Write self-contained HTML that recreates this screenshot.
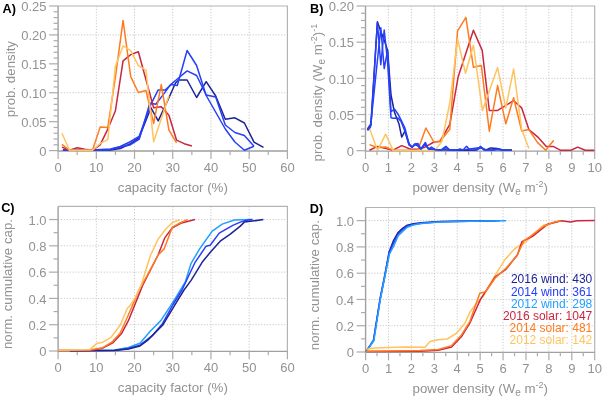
<!DOCTYPE html>
<html><head><meta charset="utf-8"><style>
html,body{margin:0;padding:0;background:#fff;}
body{width:602px;height:398px;overflow:hidden;}
svg{display:block;will-change:transform;}
text{font-family:"Liberation Sans", sans-serif;}
.g{stroke:#c8c8c8;stroke-width:1;stroke-dasharray:1.2 1.66;}
.s{stroke:#a0a0a0;stroke-width:1.4;fill:none;}
.t{stroke:#ababab;stroke-width:1.2;}
.s2{stroke:#b4b4b4;stroke-width:1.2;fill:none;}
.tl{font-size:13px;fill:#929292;}
.al{font-size:13.3px;fill:#929292;}
.sup{font-size:9px;} .sub{font-size:10px;}
.pl{font-size:12.7px;font-weight:bold;fill:#000;}
.lg{font-size:12px;}
</style></head><body>
<div class="wrap"><svg width="602" height="398" viewBox="0 0 602 398">
<rect width="602" height="398" fill="#fff"/>
<line x1="96.32" y1="6.00" x2="96.32" y2="150.60" class="g"/>
<line x1="134.53" y1="6.00" x2="134.53" y2="150.60" class="g"/>
<line x1="172.75" y1="6.00" x2="172.75" y2="150.60" class="g"/>
<line x1="210.97" y1="6.00" x2="210.97" y2="150.60" class="g"/>
<line x1="249.18" y1="6.00" x2="249.18" y2="150.60" class="g"/>
<line x1="58.10" y1="92.76" x2="287.40" y2="92.76" class="g"/>
<line x1="58.10" y1="34.92" x2="287.40" y2="34.92" class="g"/>
<line x1="388.42" y1="6.00" x2="388.42" y2="150.70" class="g"/>
<line x1="411.34" y1="6.00" x2="411.34" y2="150.70" class="g"/>
<line x1="434.26" y1="6.00" x2="434.26" y2="150.70" class="g"/>
<line x1="457.18" y1="6.00" x2="457.18" y2="150.70" class="g"/>
<line x1="480.10" y1="6.00" x2="480.10" y2="150.70" class="g"/>
<line x1="503.02" y1="6.00" x2="503.02" y2="150.70" class="g"/>
<line x1="525.94" y1="6.00" x2="525.94" y2="150.70" class="g"/>
<line x1="548.86" y1="6.00" x2="548.86" y2="150.70" class="g"/>
<line x1="571.78" y1="6.00" x2="571.78" y2="150.70" class="g"/>
<line x1="365.50" y1="114.52" x2="594.70" y2="114.52" class="g"/>
<line x1="365.50" y1="78.35" x2="594.70" y2="78.35" class="g"/>
<line x1="365.50" y1="42.17" x2="594.70" y2="42.17" class="g"/>
<line x1="96.32" y1="206.40" x2="96.32" y2="351.00" class="g"/>
<line x1="134.53" y1="206.40" x2="134.53" y2="351.00" class="g"/>
<line x1="172.75" y1="206.40" x2="172.75" y2="351.00" class="g"/>
<line x1="210.97" y1="206.40" x2="210.97" y2="351.00" class="g"/>
<line x1="249.18" y1="206.40" x2="249.18" y2="351.00" class="g"/>
<line x1="58.10" y1="324.71" x2="287.40" y2="324.71" class="g"/>
<line x1="58.10" y1="298.42" x2="287.40" y2="298.42" class="g"/>
<line x1="58.10" y1="272.13" x2="287.40" y2="272.13" class="g"/>
<line x1="58.10" y1="245.84" x2="287.40" y2="245.84" class="g"/>
<line x1="58.10" y1="219.55" x2="287.40" y2="219.55" class="g"/>
<line x1="388.51" y1="207.50" x2="388.51" y2="352.00" class="g"/>
<line x1="411.42" y1="207.50" x2="411.42" y2="352.00" class="g"/>
<line x1="434.33" y1="207.50" x2="434.33" y2="352.00" class="g"/>
<line x1="457.24" y1="207.50" x2="457.24" y2="352.00" class="g"/>
<line x1="480.15" y1="207.50" x2="480.15" y2="352.00" class="g"/>
<line x1="503.06" y1="207.50" x2="503.06" y2="352.00" class="g"/>
<line x1="525.97" y1="207.50" x2="525.97" y2="352.00" class="g"/>
<line x1="548.88" y1="207.50" x2="548.88" y2="352.00" class="g"/>
<line x1="571.79" y1="207.50" x2="571.79" y2="352.00" class="g"/>
<line x1="365.60" y1="325.73" x2="594.70" y2="325.73" class="g"/>
<line x1="365.60" y1="299.45" x2="594.70" y2="299.45" class="g"/>
<line x1="365.60" y1="273.18" x2="594.70" y2="273.18" class="g"/>
<line x1="365.60" y1="246.91" x2="594.70" y2="246.91" class="g"/>
<line x1="365.60" y1="220.64" x2="594.70" y2="220.64" class="g"/>
<path d="M58.10,6.00H287.40V151.00" class="s2"/>
<path d="M58.10,6.00V151.00H287.40" class="s"/>
<line x1="58.10" y1="150.60" x2="58.10" y2="158.90" class="t"/>
<text x="58.10" y="171.60" class="tl" text-anchor="middle">0</text>
<line x1="96.32" y1="150.60" x2="96.32" y2="158.90" class="t"/>
<text x="96.32" y="171.60" class="tl" text-anchor="middle">10</text>
<line x1="134.53" y1="150.60" x2="134.53" y2="158.90" class="t"/>
<text x="134.53" y="171.60" class="tl" text-anchor="middle">20</text>
<line x1="172.75" y1="150.60" x2="172.75" y2="158.90" class="t"/>
<text x="172.75" y="171.60" class="tl" text-anchor="middle">30</text>
<line x1="210.97" y1="150.60" x2="210.97" y2="158.90" class="t"/>
<text x="210.97" y="171.60" class="tl" text-anchor="middle">40</text>
<line x1="249.18" y1="150.60" x2="249.18" y2="158.90" class="t"/>
<text x="249.18" y="171.60" class="tl" text-anchor="middle">50</text>
<line x1="287.40" y1="150.60" x2="287.40" y2="158.90" class="t"/>
<text x="287.40" y="171.60" class="tl" text-anchor="middle">60</text>
<line x1="77.21" y1="150.60" x2="77.21" y2="154.90" class="t"/>
<line x1="115.42" y1="150.60" x2="115.42" y2="154.90" class="t"/>
<line x1="153.64" y1="150.60" x2="153.64" y2="154.90" class="t"/>
<line x1="191.86" y1="150.60" x2="191.86" y2="154.90" class="t"/>
<line x1="230.07" y1="150.60" x2="230.07" y2="154.90" class="t"/>
<line x1="268.29" y1="150.60" x2="268.29" y2="154.90" class="t"/>
<line x1="49.10" y1="150.60" x2="58.10" y2="150.60" class="t"/>
<text x="46.60" y="155.80" class="tl" text-anchor="end">0</text>
<line x1="49.10" y1="121.68" x2="58.10" y2="121.68" class="t"/>
<text x="46.60" y="126.88" class="tl" text-anchor="end">0.05</text>
<line x1="49.10" y1="92.76" x2="58.10" y2="92.76" class="t"/>
<text x="46.60" y="97.96" class="tl" text-anchor="end">0.10</text>
<line x1="49.10" y1="63.84" x2="58.10" y2="63.84" class="t"/>
<text x="46.60" y="69.04" class="tl" text-anchor="end">0.15</text>
<line x1="49.10" y1="34.92" x2="58.10" y2="34.92" class="t"/>
<text x="46.60" y="40.12" class="tl" text-anchor="end">0.20</text>
<line x1="49.10" y1="6.00" x2="58.10" y2="6.00" class="t"/>
<text x="46.60" y="11.20" class="tl" text-anchor="end">0.25</text>
<line x1="53.60" y1="144.82" x2="58.10" y2="144.82" class="t"/>
<line x1="53.60" y1="139.03" x2="58.10" y2="139.03" class="t"/>
<line x1="53.60" y1="133.25" x2="58.10" y2="133.25" class="t"/>
<line x1="53.60" y1="127.46" x2="58.10" y2="127.46" class="t"/>
<line x1="53.60" y1="115.90" x2="58.10" y2="115.90" class="t"/>
<line x1="53.60" y1="110.11" x2="58.10" y2="110.11" class="t"/>
<line x1="53.60" y1="104.33" x2="58.10" y2="104.33" class="t"/>
<line x1="53.60" y1="98.54" x2="58.10" y2="98.54" class="t"/>
<line x1="53.60" y1="86.98" x2="58.10" y2="86.98" class="t"/>
<line x1="53.60" y1="81.19" x2="58.10" y2="81.19" class="t"/>
<line x1="53.60" y1="75.41" x2="58.10" y2="75.41" class="t"/>
<line x1="53.60" y1="69.62" x2="58.10" y2="69.62" class="t"/>
<line x1="53.60" y1="58.06" x2="58.10" y2="58.06" class="t"/>
<line x1="53.60" y1="52.27" x2="58.10" y2="52.27" class="t"/>
<line x1="53.60" y1="46.49" x2="58.10" y2="46.49" class="t"/>
<line x1="53.60" y1="40.70" x2="58.10" y2="40.70" class="t"/>
<line x1="53.60" y1="29.14" x2="58.10" y2="29.14" class="t"/>
<line x1="53.60" y1="23.35" x2="58.10" y2="23.35" class="t"/>
<line x1="53.60" y1="17.57" x2="58.10" y2="17.57" class="t"/>
<line x1="53.60" y1="11.78" x2="58.10" y2="11.78" class="t"/>
<path d="M365.50,6.00H594.70V151.10" class="s2"/>
<path d="M365.50,6.00V151.10H594.70" class="s"/>
<line x1="365.50" y1="150.70" x2="365.50" y2="159.00" class="t"/>
<text x="365.50" y="171.70" class="tl" text-anchor="middle">0</text>
<line x1="388.42" y1="150.70" x2="388.42" y2="159.00" class="t"/>
<text x="388.42" y="171.70" class="tl" text-anchor="middle">1</text>
<line x1="411.34" y1="150.70" x2="411.34" y2="159.00" class="t"/>
<text x="411.34" y="171.70" class="tl" text-anchor="middle">2</text>
<line x1="434.26" y1="150.70" x2="434.26" y2="159.00" class="t"/>
<text x="434.26" y="171.70" class="tl" text-anchor="middle">3</text>
<line x1="457.18" y1="150.70" x2="457.18" y2="159.00" class="t"/>
<text x="457.18" y="171.70" class="tl" text-anchor="middle">4</text>
<line x1="480.10" y1="150.70" x2="480.10" y2="159.00" class="t"/>
<text x="480.10" y="171.70" class="tl" text-anchor="middle">5</text>
<line x1="503.02" y1="150.70" x2="503.02" y2="159.00" class="t"/>
<text x="503.02" y="171.70" class="tl" text-anchor="middle">6</text>
<line x1="525.94" y1="150.70" x2="525.94" y2="159.00" class="t"/>
<text x="525.94" y="171.70" class="tl" text-anchor="middle">7</text>
<line x1="548.86" y1="150.70" x2="548.86" y2="159.00" class="t"/>
<text x="548.86" y="171.70" class="tl" text-anchor="middle">8</text>
<line x1="571.78" y1="150.70" x2="571.78" y2="159.00" class="t"/>
<text x="571.78" y="171.70" class="tl" text-anchor="middle">9</text>
<line x1="594.70" y1="150.70" x2="594.70" y2="159.00" class="t"/>
<text x="594.70" y="171.70" class="tl" text-anchor="middle">10</text>
<line x1="376.96" y1="150.70" x2="376.96" y2="155.00" class="t"/>
<line x1="399.88" y1="150.70" x2="399.88" y2="155.00" class="t"/>
<line x1="422.80" y1="150.70" x2="422.80" y2="155.00" class="t"/>
<line x1="445.72" y1="150.70" x2="445.72" y2="155.00" class="t"/>
<line x1="468.64" y1="150.70" x2="468.64" y2="155.00" class="t"/>
<line x1="491.56" y1="150.70" x2="491.56" y2="155.00" class="t"/>
<line x1="514.48" y1="150.70" x2="514.48" y2="155.00" class="t"/>
<line x1="537.40" y1="150.70" x2="537.40" y2="155.00" class="t"/>
<line x1="560.32" y1="150.70" x2="560.32" y2="155.00" class="t"/>
<line x1="583.24" y1="150.70" x2="583.24" y2="155.00" class="t"/>
<line x1="356.50" y1="150.70" x2="365.50" y2="150.70" class="t"/>
<text x="354.00" y="155.90" class="tl" text-anchor="end">0</text>
<line x1="356.50" y1="114.52" x2="365.50" y2="114.52" class="t"/>
<text x="354.00" y="119.72" class="tl" text-anchor="end">0.05</text>
<line x1="356.50" y1="78.35" x2="365.50" y2="78.35" class="t"/>
<text x="354.00" y="83.55" class="tl" text-anchor="end">0.10</text>
<line x1="356.50" y1="42.17" x2="365.50" y2="42.17" class="t"/>
<text x="354.00" y="47.37" class="tl" text-anchor="end">0.15</text>
<line x1="356.50" y1="6.00" x2="365.50" y2="6.00" class="t"/>
<text x="354.00" y="11.20" class="tl" text-anchor="end">0.20</text>
<line x1="361.00" y1="143.47" x2="365.50" y2="143.47" class="t"/>
<line x1="361.00" y1="136.23" x2="365.50" y2="136.23" class="t"/>
<line x1="361.00" y1="129.00" x2="365.50" y2="129.00" class="t"/>
<line x1="361.00" y1="121.76" x2="365.50" y2="121.76" class="t"/>
<line x1="361.00" y1="107.29" x2="365.50" y2="107.29" class="t"/>
<line x1="361.00" y1="100.05" x2="365.50" y2="100.05" class="t"/>
<line x1="361.00" y1="92.82" x2="365.50" y2="92.82" class="t"/>
<line x1="361.00" y1="85.58" x2="365.50" y2="85.58" class="t"/>
<line x1="361.00" y1="71.12" x2="365.50" y2="71.12" class="t"/>
<line x1="361.00" y1="63.88" x2="365.50" y2="63.88" class="t"/>
<line x1="361.00" y1="56.64" x2="365.50" y2="56.64" class="t"/>
<line x1="361.00" y1="49.41" x2="365.50" y2="49.41" class="t"/>
<line x1="361.00" y1="34.94" x2="365.50" y2="34.94" class="t"/>
<line x1="361.00" y1="27.70" x2="365.50" y2="27.70" class="t"/>
<line x1="361.00" y1="20.47" x2="365.50" y2="20.47" class="t"/>
<line x1="361.00" y1="13.24" x2="365.50" y2="13.24" class="t"/>
<path d="M58.10,206.40H287.40V351.40" class="s2"/>
<path d="M58.10,206.40V351.40H287.40" class="s"/>
<line x1="58.10" y1="351.00" x2="58.10" y2="359.30" class="t"/>
<text x="58.10" y="372.00" class="tl" text-anchor="middle">0</text>
<line x1="96.32" y1="351.00" x2="96.32" y2="359.30" class="t"/>
<text x="96.32" y="372.00" class="tl" text-anchor="middle">10</text>
<line x1="134.53" y1="351.00" x2="134.53" y2="359.30" class="t"/>
<text x="134.53" y="372.00" class="tl" text-anchor="middle">20</text>
<line x1="172.75" y1="351.00" x2="172.75" y2="359.30" class="t"/>
<text x="172.75" y="372.00" class="tl" text-anchor="middle">30</text>
<line x1="210.97" y1="351.00" x2="210.97" y2="359.30" class="t"/>
<text x="210.97" y="372.00" class="tl" text-anchor="middle">40</text>
<line x1="249.18" y1="351.00" x2="249.18" y2="359.30" class="t"/>
<text x="249.18" y="372.00" class="tl" text-anchor="middle">50</text>
<line x1="287.40" y1="351.00" x2="287.40" y2="359.30" class="t"/>
<text x="287.40" y="372.00" class="tl" text-anchor="middle">60</text>
<line x1="77.21" y1="351.00" x2="77.21" y2="355.30" class="t"/>
<line x1="115.42" y1="351.00" x2="115.42" y2="355.30" class="t"/>
<line x1="153.64" y1="351.00" x2="153.64" y2="355.30" class="t"/>
<line x1="191.86" y1="351.00" x2="191.86" y2="355.30" class="t"/>
<line x1="230.07" y1="351.00" x2="230.07" y2="355.30" class="t"/>
<line x1="268.29" y1="351.00" x2="268.29" y2="355.30" class="t"/>
<line x1="49.10" y1="351.00" x2="58.10" y2="351.00" class="t"/>
<text x="46.60" y="356.20" class="tl" text-anchor="end">0</text>
<line x1="49.10" y1="324.71" x2="58.10" y2="324.71" class="t"/>
<text x="46.60" y="329.91" class="tl" text-anchor="end">0.2</text>
<line x1="49.10" y1="298.42" x2="58.10" y2="298.42" class="t"/>
<text x="46.60" y="303.62" class="tl" text-anchor="end">0.4</text>
<line x1="49.10" y1="272.13" x2="58.10" y2="272.13" class="t"/>
<text x="46.60" y="277.33" class="tl" text-anchor="end">0.6</text>
<line x1="49.10" y1="245.84" x2="58.10" y2="245.84" class="t"/>
<text x="46.60" y="251.04" class="tl" text-anchor="end">0.8</text>
<line x1="49.10" y1="219.55" x2="58.10" y2="219.55" class="t"/>
<text x="46.60" y="224.75" class="tl" text-anchor="end">1.0</text>
<line x1="53.60" y1="337.85" x2="58.10" y2="337.85" class="t"/>
<line x1="53.60" y1="311.56" x2="58.10" y2="311.56" class="t"/>
<line x1="53.60" y1="285.27" x2="58.10" y2="285.27" class="t"/>
<line x1="53.60" y1="258.98" x2="58.10" y2="258.98" class="t"/>
<line x1="53.60" y1="232.69" x2="58.10" y2="232.69" class="t"/>
<path d="M365.60,207.50H594.70V352.40" class="s2"/>
<path d="M365.60,207.50V352.40H594.70" class="s"/>
<line x1="365.60" y1="352.00" x2="365.60" y2="360.30" class="t"/>
<text x="365.60" y="373.00" class="tl" text-anchor="middle">0</text>
<line x1="388.51" y1="352.00" x2="388.51" y2="360.30" class="t"/>
<text x="388.51" y="373.00" class="tl" text-anchor="middle">1</text>
<line x1="411.42" y1="352.00" x2="411.42" y2="360.30" class="t"/>
<text x="411.42" y="373.00" class="tl" text-anchor="middle">2</text>
<line x1="434.33" y1="352.00" x2="434.33" y2="360.30" class="t"/>
<text x="434.33" y="373.00" class="tl" text-anchor="middle">3</text>
<line x1="457.24" y1="352.00" x2="457.24" y2="360.30" class="t"/>
<text x="457.24" y="373.00" class="tl" text-anchor="middle">4</text>
<line x1="480.15" y1="352.00" x2="480.15" y2="360.30" class="t"/>
<text x="480.15" y="373.00" class="tl" text-anchor="middle">5</text>
<line x1="503.06" y1="352.00" x2="503.06" y2="360.30" class="t"/>
<text x="503.06" y="373.00" class="tl" text-anchor="middle">6</text>
<line x1="525.97" y1="352.00" x2="525.97" y2="360.30" class="t"/>
<text x="525.97" y="373.00" class="tl" text-anchor="middle">7</text>
<line x1="548.88" y1="352.00" x2="548.88" y2="360.30" class="t"/>
<text x="548.88" y="373.00" class="tl" text-anchor="middle">8</text>
<line x1="571.79" y1="352.00" x2="571.79" y2="360.30" class="t"/>
<text x="571.79" y="373.00" class="tl" text-anchor="middle">9</text>
<line x1="594.70" y1="352.00" x2="594.70" y2="360.30" class="t"/>
<text x="594.70" y="373.00" class="tl" text-anchor="middle">10</text>
<line x1="377.06" y1="352.00" x2="377.06" y2="356.30" class="t"/>
<line x1="399.97" y1="352.00" x2="399.97" y2="356.30" class="t"/>
<line x1="422.88" y1="352.00" x2="422.88" y2="356.30" class="t"/>
<line x1="445.79" y1="352.00" x2="445.79" y2="356.30" class="t"/>
<line x1="468.70" y1="352.00" x2="468.70" y2="356.30" class="t"/>
<line x1="491.61" y1="352.00" x2="491.61" y2="356.30" class="t"/>
<line x1="514.52" y1="352.00" x2="514.52" y2="356.30" class="t"/>
<line x1="537.43" y1="352.00" x2="537.43" y2="356.30" class="t"/>
<line x1="560.34" y1="352.00" x2="560.34" y2="356.30" class="t"/>
<line x1="583.25" y1="352.00" x2="583.25" y2="356.30" class="t"/>
<line x1="356.60" y1="352.00" x2="365.60" y2="352.00" class="t"/>
<text x="354.10" y="357.20" class="tl" text-anchor="end">0</text>
<line x1="356.60" y1="325.73" x2="365.60" y2="325.73" class="t"/>
<text x="354.10" y="330.93" class="tl" text-anchor="end">0.2</text>
<line x1="356.60" y1="299.45" x2="365.60" y2="299.45" class="t"/>
<text x="354.10" y="304.65" class="tl" text-anchor="end">0.4</text>
<line x1="356.60" y1="273.18" x2="365.60" y2="273.18" class="t"/>
<text x="354.10" y="278.38" class="tl" text-anchor="end">0.6</text>
<line x1="356.60" y1="246.91" x2="365.60" y2="246.91" class="t"/>
<text x="354.10" y="252.11" class="tl" text-anchor="end">0.8</text>
<line x1="356.60" y1="220.64" x2="365.60" y2="220.64" class="t"/>
<text x="354.10" y="225.84" class="tl" text-anchor="end">1.0</text>
<line x1="361.10" y1="338.86" x2="365.60" y2="338.86" class="t"/>
<line x1="361.10" y1="312.59" x2="365.60" y2="312.59" class="t"/>
<line x1="361.10" y1="286.32" x2="365.60" y2="286.32" class="t"/>
<line x1="361.10" y1="260.05" x2="365.60" y2="260.05" class="t"/>
<line x1="361.10" y1="233.77" x2="365.60" y2="233.77" class="t"/>
<polyline points="62.90,150.10 101.10,150.10 110.60,149.90 120.20,148.50 129.80,144.00 139.10,137.60 151.00,107.80 158.20,120.90 166.60,103.00 175.50,83.00 178.80,80.00 187.10,80.00 196.60,97.50 206.20,81.70 215.70,96.00 225.30,119.30 234.90,117.80 244.40,123.00 254.00,142.20 263.50,147.40" fill="none" stroke="#1d2394" stroke-width="1.5" stroke-linejoin="round"/>
<polyline points="62.90,150.10 101.10,150.00 110.60,149.50 120.20,147.00 129.80,145.00 139.30,139.00 149.90,103.00 155.80,104.20 164.20,93.40 170.10,85.10 178.80,77.70 187.10,70.90 196.60,75.50 206.20,95.00 215.70,97.00 225.30,125.00 234.90,132.50 244.40,135.50 254.00,146.20" fill="none" stroke="#2540f8" stroke-width="1.5" stroke-linejoin="round"/>
<polyline points="62.90,150.10 91.50,150.00 110.60,149.00 120.20,146.50 129.80,142.00 139.10,136.40 151.00,104.20 158.20,89.90 165.40,89.90 171.30,84.50 177.30,85.50 187.10,50.50 196.60,65.50 206.20,95.50 225.30,129.00 234.90,142.00 244.40,150.20 254.00,146.20" fill="none" stroke="#2540f8" stroke-width="1.5" stroke-linejoin="round"/>
<polyline points="61.92,147.13 69.56,150.30 77.21,147.71 84.85,149.14 92.50,150.30 100.14,144.82 107.78,129.20 115.42,110.69 123.07,60.95 130.71,54.59 138.35,51.69 153.64,107.80 161.28,106.64 168.93,115.32 176.57,140.19 184.22,143.66 191.86,145.97" fill="none" stroke="#c9263f" stroke-width="1.5" stroke-linejoin="round"/>
<polyline points="61.92,144.41 69.56,150.30 77.21,150.30 84.85,150.30 92.50,150.30 100.14,127.12 107.78,127.46 115.42,77.14 123.07,20.46 130.71,76.56 138.35,92.53 146.00,90.56 153.64,123.42 161.28,84.55 168.93,130.12 176.57,142.91" fill="none" stroke="#ff7b1f" stroke-width="1.5" stroke-linejoin="round"/>
<polyline points="61.92,133.25 69.56,150.30 77.21,150.30 84.85,150.30 92.50,150.30 100.14,143.66 107.78,139.61 115.42,66.15 123.07,45.91 130.71,50.54 138.35,65.58 146.00,70.20 153.64,141.81 168.93,95.65" fill="none" stroke="#ffc45e" stroke-width="1.5" stroke-linejoin="round"/>
<polyline points="369.50,150.20 377.60,146.40 385.10,148.30 393.10,150.20 401.70,145.60 410.70,149.20 417.80,149.20 425.00,147.20 433.90,142.00 439.90,141.50 449.80,124.40 458.20,76.70 473.40,30.20 482.20,50.40 489.30,110.40 497.60,110.40 513.60,100.70 521.70,107.90 528.90,129.60 537.60,136.80 546.30,146.40 553.20,146.40 560.70,150.30 570.80,150.30 577.70,147.10 585.20,150.30 594.40,150.30" fill="none" stroke="#c9263f" stroke-width="1.5" stroke-linejoin="round"/>
<polyline points="369.50,144.60 377.60,147.70 385.60,147.00 393.10,150.20 417.80,150.20 425.90,128.00 433.90,142.00 440.40,141.00 449.80,129.20 457.60,30.80 465.90,17.40 473.40,67.20 481.30,65.40 489.30,131.20 497.60,85.60 505.80,123.80 513.60,97.80 521.70,131.00 528.90,129.60 537.60,142.60 545.70,150.20 553.80,140.20" fill="none" stroke="#ff7b1f" stroke-width="1.5" stroke-linejoin="round"/>
<polyline points="369.50,128.60 377.60,150.40 385.60,134.10 393.10,150.40 434.90,150.40 441.90,141.50 449.80,103.00 457.60,39.00 465.50,73.30 473.40,45.20 482.40,110.40 497.60,67.60 505.80,107.90 513.60,68.90 521.70,129.60 528.90,148.40" fill="none" stroke="#ffc45e" stroke-width="1.5" stroke-linejoin="round"/>
<polyline points="367.50,129.00 370.90,124.00 377.40,21.80 381.00,32.00 384.50,41.00 387.60,50.40 391.00,95.00 394.40,112.00 399.10,124.30 401.70,137.10 404.90,131.20 409.40,144.70 412.40,147.00 416.20,144.00 418.40,146.30 421.00,149.00 425.20,143.20 428.40,149.00 434.90,149.60 455.00,150.20 462.00,150.00 475.00,150.20 481.00,147.50 486.00,150.00 490.50,147.90 497.10,148.50 503.00,150.00 512.00,150.00" fill="none" stroke="#1d2394" stroke-width="1.5" stroke-linejoin="round"/>
<polyline points="367.50,130.50 370.50,127.00 380.80,27.80 384.20,68.50 387.60,50.40 391.00,111.70 394.60,109.20 398.10,114.20 401.10,120.20 404.90,128.00 409.00,144.00 412.00,147.00 415.00,144.50 418.00,146.00 421.00,148.50 425.00,145.00 428.40,148.50 434.90,149.50 442.00,150.00 446.00,147.50 450.00,150.00 466.00,149.50 480.50,147.50 485.00,150.00 495.00,150.00 500.00,149.50 505.00,150.20" fill="none" stroke="#2540f8" stroke-width="1.5" stroke-linejoin="round"/>
<polyline points="367.50,130.00 371.00,125.00 377.40,22.50 380.80,64.80 384.20,30.10 387.60,62.00 391.00,117.70 393.00,118.20 398.00,118.00 401.10,121.40 404.90,131.20 409.00,145.00 412.00,147.40 414.50,144.00 418.00,143.50 421.00,149.00 425.40,142.50 428.40,149.00 431.40,147.00 434.90,149.40 441.00,150.00 445.90,146.30 449.50,150.00 457.00,150.00 460.00,149.00 463.00,150.00 466.60,146.30 470.00,150.00 477.00,150.00 480.50,146.30 484.00,150.00 492.00,150.00 497.00,149.00 502.00,150.20 511.80,150.00" fill="none" stroke="#2540f8" stroke-width="1.5" stroke-linejoin="round"/>
<polyline points="70.00,350.80 114.60,350.00 128.40,347.50 140.00,343.20 150.40,331.00 160.80,320.60 170.20,306.40 176.80,296.00 185.30,281.90 191.10,263.30 200.10,248.20 212.20,231.10 222.20,224.10 234.30,220.00 252.40,219.50" fill="none" stroke="#22a0ff" stroke-width="1.5" stroke-linejoin="round"/>
<polyline points="70.00,350.80 114.60,350.20 128.40,348.50 140.00,345.10 152.30,335.70 162.60,323.40 173.00,304.50 182.00,290.00 195.10,262.30 206.10,246.20 210.20,245.20 219.20,233.10 226.20,229.10 233.30,225.10 240.30,222.10 246.30,220.30 252.40,219.50" fill="none" stroke="#2540f8" stroke-width="1.5" stroke-linejoin="round"/>
<polyline points="70.00,350.80 114.60,350.50 128.40,349.00 140.00,346.00 147.50,340.40 162.60,325.30 174.00,306.40 184.00,290.00 191.10,280.40 202.10,262.30 211.20,251.20 220.20,241.20 230.30,234.10 240.30,226.10 244.30,222.10 252.40,221.10 263.40,219.50" fill="none" stroke="#1d2394" stroke-width="1.5" stroke-linejoin="round"/>
<polyline points="58.50,350.50 89.70,350.50 102.80,348.20 113.20,342.60 121.50,333.60 128.40,320.70 142.60,285.40 158.10,255.00 164.90,237.60 172.40,227.80 180.70,223.30 195.00,219.60" fill="none" stroke="#c9263f" stroke-width="1.5" stroke-linejoin="round"/>
<polyline points="58.50,350.30 89.70,350.00 102.80,347.70 111.80,342.20 120.10,333.20 127.00,318.00 140.10,287.90 147.50,275.00 158.10,255.00 164.10,248.90 172.40,227.10 179.20,223.30 187.50,219.60" fill="none" stroke="#ff7b1f" stroke-width="1.5" stroke-linejoin="round"/>
<polyline points="58.50,350.30 89.70,349.60 96.60,343.60 102.80,342.20 111.10,337.30 120.30,325.00 127.10,308.70 131.60,303.40 135.40,297.40 141.40,284.60 147.40,265.00 150.50,255.50 158.10,239.10 165.60,229.30 172.40,222.50 180.00,219.60" fill="none" stroke="#ffc45e" stroke-width="1.5" stroke-linejoin="round"/>
<polyline points="366.00,351.70 373.50,340.60 380.10,299.50 384.80,276.00 389.10,252.00 393.50,240.50 397.80,232.80 402.50,228.30 407.20,225.20 413.20,223.80 421.30,222.70 440.00,221.50 470.00,221.00 496.00,220.70" fill="none" stroke="#1d2394" stroke-width="1.5" stroke-linejoin="round"/>
<polyline points="366.00,351.70 373.50,340.20 380.10,298.50 384.80,275.00 389.10,253.00 393.50,243.50 397.80,234.60 402.50,229.80 407.20,226.20 413.20,224.40 421.30,223.20 440.00,221.80 470.00,221.20 500.00,220.80" fill="none" stroke="#2540f8" stroke-width="1.5" stroke-linejoin="round"/>
<polyline points="366.00,351.70 373.80,340.80 380.40,299.00 385.10,275.50 389.50,254.00 393.80,246.00 398.20,235.80 403.20,231.00 407.20,227.20 413.20,225.00 421.30,223.50 440.00,222.00 470.00,221.30 506.00,220.80" fill="none" stroke="#22a0ff" stroke-width="1.5" stroke-linejoin="round"/>
<polyline points="366.90,349.80 370.70,348.30 387.60,347.50 404.60,347.00 425.00,347.30 430.00,341.50 438.30,339.80 447.40,339.00 456.50,333.20 464.90,323.20 469.80,312.40 476.50,303.30 483.10,296.60 494.10,276.90 504.80,259.80 514.40,249.10 518.70,245.90 525.10,242.70 532.50,235.30 543.30,225.30 561.30,220.80" fill="none" stroke="#ffc45e" stroke-width="1.5" stroke-linejoin="round"/>
<polyline points="366.00,351.50 420.00,351.30 438.30,350.30 451.60,347.00 461.50,336.50 469.80,323.20 476.50,308.30 480.60,299.10 495.20,276.90 505.90,269.40 517.60,254.50 521.90,241.70 532.50,236.30 547.80,224.20 561.30,220.80 570.40,221.90 577.20,220.80 594.70,220.50" fill="none" stroke="#c9263f" stroke-width="1.5" stroke-linejoin="round"/>
<polyline points="366.00,351.20 420.00,350.60 438.30,349.50 451.60,345.60 461.50,334.90 469.80,321.60 479.80,293.30 485.60,291.70 495.20,278.00 505.90,268.30 516.50,256.60 524.00,240.60 530.40,236.30 543.30,226.50 554.60,221.90 561.30,220.80" fill="none" stroke="#ff7b1f" stroke-width="1.5" stroke-linejoin="round"/>
<text x="2.6" y="12.7" class="pl">A)</text>
<text x="310.0" y="12.9" class="pl">B)</text>
<text x="1.2" y="212.2" class="pl">C)</text>
<text x="309.8" y="213.2" class="pl">D)</text>
<text class="al" text-anchor="middle" transform="translate(14.7,79.1) rotate(-90)">prob. density</text>
<text class="al" text-anchor="middle" transform="translate(321.6,92.6) rotate(-90)">prob. density (W<tspan class="sub" dy="3">e</tspan><tspan dy="-3"> m</tspan><tspan class="sup" dy="-5">-2</tspan><tspan dy="5">)</tspan><tspan class="sup" dy="-5">-1</tspan></text>
<text class="al" text-anchor="middle" x="172.8" y="191.9">capacity factor (%)</text>
<text class="al" text-anchor="middle" x="480.3" y="191.9">power density (W<tspan class="sub" dy="3">e</tspan><tspan dy="-3"> m</tspan><tspan class="sup" dy="-5">-2</tspan><tspan dy="5">)</tspan></text>
<text class="al" text-anchor="middle" transform="translate(11.9,284.0) rotate(-90)">norm. cumulative cap.</text>
<text class="al" text-anchor="middle" x="172.8" y="392.3">capacity factor (%)</text>
<text class="al" text-anchor="middle" transform="translate(318.9,285.2) rotate(-90)">norm. cumulative cap.</text>
<text class="al" text-anchor="middle" x="480.3" y="393.3">power density (W<tspan class="sub" dy="3">e</tspan><tspan dy="-3"> m</tspan><tspan class="sup" dy="-5">-2</tspan><tspan dy="5">)</tspan></text>
<text x="592.3" y="282.90" class="lg" text-anchor="end" fill="#1d2394">2016 wind: 430</text>
<text x="592.3" y="295.50" class="lg" text-anchor="end" fill="#2540f8">2014 wind: 361</text>
<text x="592.3" y="308.20" class="lg" text-anchor="end" fill="#22a0ff">2012 wind: 298</text>
<text x="592.3" y="320.10" class="lg" text-anchor="end" fill="#c9263f">2016 solar: 1047</text>
<text x="592.3" y="331.90" class="lg" text-anchor="end" fill="#ff7b1f">2014 solar: 481</text>
<text x="592.3" y="343.70" class="lg" text-anchor="end" fill="#ffc45e">2012 solar: 142</text>
</svg></div></body></html>
